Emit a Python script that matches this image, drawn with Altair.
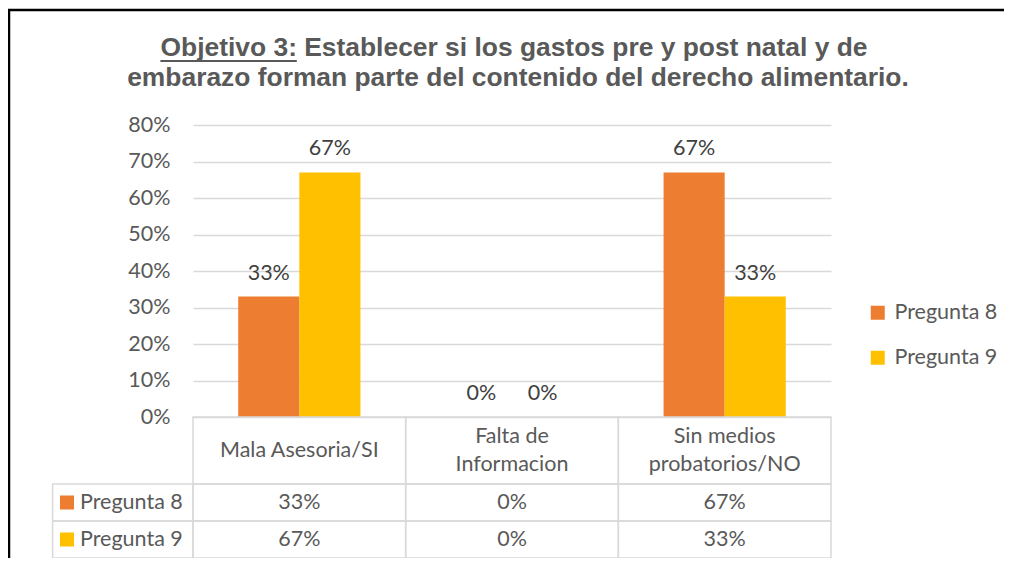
import altair as alt
import pandas as pd

# ---- data ----
CATEGORIES = ["Mala Asesoria/SI", "Falta de Informacion", "Sin medios probatorios/NO"]
HEADER_LABELS = ["Mala Asesoria/SI", "Falta de\nInformacion", "Sin medios\nprobatorios/NO"]
SERIES = ["Pregunta 8", "Pregunta 9"]
PREGUNTA_8 = [0.33, 0.0, 0.67]
PREGUNTA_9 = [0.67, 0.0, 0.33]
Y_TICKS = [0.0, 0.1, 0.2, 0.3, 0.4, 0.5, 0.6, 0.7, 0.8]
TITLE_LINE_1 = "Objetivo 3: Establecer si los gastos pre y post natal y de"
TITLE_LINE_2 = "embarazo forman parte del contenido del derecho alimentario."
COLORS = ["#ED7D31", "#FFC000"]

# ---- styling ----
FONT = "Lato"
FS = 21.5
GREY = "#595959"
DARK = "#404040"
GRID = "#d9d9d9"
TITLE_FONT = "Liberation Sans"
TITLE_FS = 26.4

rows = []
for s, vals in zip(SERIES, [PREGUNTA_8, PREGUNTA_9]):
    for c, v in zip(CATEGORIES, vals):
        rows.append({"categoria": c, "serie": s, "valor": v})
df = pd.DataFrame(rows)
header_df = pd.DataFrame({"categoria": CATEGORIES, "etiqueta": HEADER_LABELS,
                          "fila": ["Encabezado"] * len(CATEGORIES)})
series_df = pd.DataFrame({"serie": SERIES, "col": ["Serie"] * len(SERIES)})

cat_scale = alt.Scale(domain=CATEGORIES, paddingInner=0, paddingOuter=0)
color_scale = alt.Scale(domain=SERIES, range=COLORS)
legend = alt.Legend(title=None, orient="none", legendX=674, legendY=177,
                    symbolType="square", symbolSize=196, symbolStrokeWidth=0,
                    labelFont=FONT, labelFontSize=FS, labelColor=GREY,
                    labelOffset=6, rowPadding=22, padding=0)

# ---- bars + labels ----
x_cat = alt.X("categoria:N", scale=cat_scale, axis=None)
x_off = alt.XOffset("serie:N", scale=alt.Scale(domain=SERIES, paddingInner=0, paddingOuter=0.74))
y_val = alt.Y("valor:Q", scale=alt.Scale(domain=[0, 0.8], range=[292, 0]),
              axis=alt.Axis(values=Y_TICKS, format=".0%", grid=True, gridColor=GRID,
                            gridWidth=1.5, domain=False, ticks=False,
                            labelFont=FONT, labelFontSize=FS, labelColor=GREY,
                            labelPadding=23, title=None))

bars = alt.Chart(df).mark_bar().encode(
    x=x_cat, xOffset=x_off, y=y_val,
    color=alt.Color("serie:N", scale=color_scale, legend=legend),
)
bar_labels = alt.Chart(df).mark_text(
    baseline="alphabetic", dy=-17, font=FONT, fontSize=FS, color=DARK
).encode(x=x_cat, xOffset=x_off, y=y_val, text=alt.Text("valor:Q", format=".0%"))
bar_layer = alt.layer(bars, bar_labels)

# ---- data table: header row ----
hy = alt.Y("fila:N", scale=alt.Scale(domain=["Encabezado"], range=[292, 359],
                                     paddingInner=0, paddingOuter=0), axis=None)
header_cells = alt.Chart(header_df).mark_rect(
    filled=False, stroke=GRID, strokeWidth=1.5
).encode(x=x_cat, y=hy)
header_text = alt.Chart(header_df).mark_text(
    lineBreak="\n", lineHeight=28, baseline="middle", font=FONT, fontSize=FS, color=GREY,
    dy=alt.ExprRef(expr="indexof(datum.etiqueta, '\\n') >= 0 ? -14 : 0"),
).encode(x=x_cat, y=hy, text="etiqueta:N")

# ---- data table: value rows ----
ry = alt.Y("serie:N", scale=alt.Scale(domain=SERIES, range=[359, 433],
                                      paddingInner=0, paddingOuter=0), axis=None)
row_cells = alt.Chart(df).mark_rect(
    filled=False, stroke=GRID, strokeWidth=1.5
).encode(x=x_cat, y=ry)
row_text = alt.Chart(df).mark_text(
    baseline="middle", font=FONT, fontSize=FS, color=GREY
).encode(x=x_cat, y=ry, text=alt.Text("valor:Q", format=".0%"))

# ---- data table: series label column ----
lx = alt.X("col:N", scale=alt.Scale(domain=["Serie"], range=[-140.4, 0],
                                    paddingInner=0, paddingOuter=0), axis=None)
lx_key = alt.X("col:N", scale=alt.Scale(domain=["Serie"], range=[-133, -119],
                                        paddingInner=0, paddingOuter=0), axis=None)
label_cells = alt.Chart(series_df).mark_rect(
    filled=False, stroke=GRID, strokeWidth=1.5
).encode(x=lx, y=ry)
label_keys = alt.Chart(series_df).mark_square(size=196, opacity=1).encode(
    x=lx_key, y=ry, color=alt.Color("serie:N", scale=color_scale, legend=legend)
)
label_text = alt.Chart(series_df).mark_text(
    align="left", baseline="middle", dx=-42.8, font=FONT, fontSize=FS, color=GREY
).encode(x=lx, y=ry, text="serie:N")

# ---- title, underline and frame ----
t1 = alt.Chart(pd.DataFrame({"texto": [TITLE_LINE_1]})).mark_text(
    align="center", baseline="alphabetic", font=TITLE_FONT, fontSize=TITLE_FS,
    fontWeight="bold", color=GREY
).encode(x=alt.value(321), y=alt.value(-69), text="texto:N")
t2 = alt.Chart(pd.DataFrame({"texto": [TITLE_LINE_2]})).mark_text(
    align="center", baseline="alphabetic", font=TITLE_FONT, fontSize=TITLE_FS,
    fontWeight="bold", color=GREY
).encode(x=alt.value(325), y=alt.value(-39), text="texto:N")
underline = alt.Chart(pd.DataFrame({"k": [0]})).mark_rule(
    color=GREY, strokeWidth=2
).encode(x=alt.value(-32.6), x2=alt.value(103.8), y=alt.value(-64))
frame = alt.Chart(pd.DataFrame({"k": [0]})).mark_rect(
    filled=False, stroke="black", strokeWidth=2.5
).encode(x=alt.value(-184), x2=alt.value(900), y=alt.value(-115), y2=alt.value(700))

chart = alt.layer(
    frame, bar_layer, header_cells, header_text, row_cells, row_text,
    label_cells, label_keys, label_text, t1, t2, underline
).resolve_scale(
    x="independent", y="independent"
).properties(
    width=638, height=433,
    padding={"left": 185, "top": 117, "right": 173, "bottom": 0},
    autosize=alt.AutoSizeParams(type="none"),
    background="white",
).configure_view(stroke=None)

chart.save("out.html", embed_options={"renderer": "svg", "actions": False})
